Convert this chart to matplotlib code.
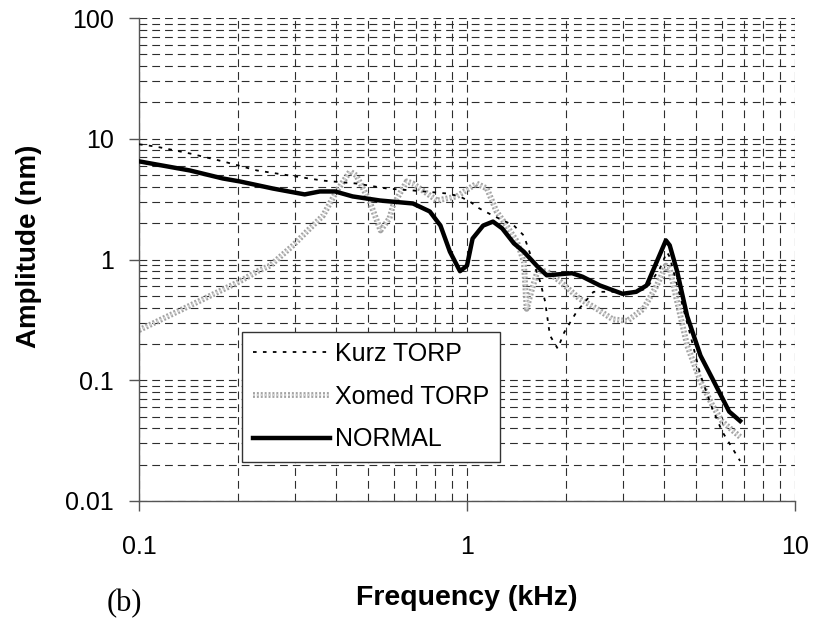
import matplotlib
matplotlib.use("Agg")
import matplotlib.pyplot as plt
import matplotlib.patheffects as pe
from matplotlib.ticker import LogLocator, NullFormatter, FixedLocator, FixedFormatter

plt.rcParams['font.family'] = ['Liberation Sans', 'DejaVu Sans']

# ---- data (frequency in kHz, amplitude in nm) ----
kurz_f = [0.1, 0.113, 0.143, 0.18, 0.229, 0.288, 0.364, 0.46, 0.57, 0.684, 0.87, 0.95,
          1.02, 1.09, 1.2, 1.39, 1.49, 1.55, 1.67, 1.73, 1.79, 1.89, 1.98, 2.16, 2.43,
          2.78, 3.14, 3.53, 3.87, 4.07, 4.15, 4.46, 4.8, 5.15, 5.6, 6.0, 6.8]
kurz_a = [9.0, 8.6, 7.55, 6.5, 5.46, 4.96, 4.5, 4.26, 3.87, 3.73, 3.52, 3.33,
          3.02, 2.65, 2.31, 1.91, 1.58, 1.16, 0.66, 0.45, 0.235, 0.183, 0.25, 0.37, 0.54,
          0.54, 0.52, 0.575, 0.84, 1.15, 1.05, 0.50, 0.235, 0.11, 0.058, 0.0376, 0.0215]

xomed_f = [0.1, 0.152, 0.203, 0.232, 0.251, 0.295, 0.325, 0.364, 0.4, 0.44, 0.46, 0.505,
           0.545, 0.58, 0.595, 0.655, 0.684, 0.81, 0.93, 1.07, 1.15, 1.23, 1.32, 1.42,
           1.49, 1.52, 1.58, 1.64, 1.75, 1.92, 2.2, 2.49, 2.78, 3.08, 3.45, 3.79, 4.04,
           4.15, 4.37, 4.69, 5.15, 5.6, 6.0, 6.8]
xomed_a = [0.26, 0.45, 0.66, 0.81, 0.89, 1.31, 1.71, 2.31, 3.66, 5.36, 4.96, 3.02,
           1.74, 2.19, 2.8, 4.43, 4.26, 3.08, 3.33, 4.26, 3.87, 2.5, 1.91, 1.41,
           0.96, 0.39, 0.575, 0.8, 0.8, 0.66, 0.475, 0.39, 0.32, 0.31, 0.39, 0.61, 0.89,
           0.84, 0.45, 0.194, 0.098, 0.062, 0.0455, 0.034]

normal_f = [0.1, 0.143, 0.18, 0.203, 0.256, 0.32, 0.356, 0.396, 0.448, 0.543, 0.684, 0.77,
            0.83, 0.887, 0.952, 1.0, 1.04, 1.12, 1.2, 1.28, 1.39, 1.49, 1.64, 1.75, 2.09,
            2.25, 2.54, 2.98, 3.28, 3.53, 3.79, 4.04, 4.15, 4.37, 4.69, 5.15, 5.6, 6.3, 6.8]
normal_a = [6.5, 5.46, 4.69, 4.43, 3.87, 3.46, 3.66, 3.66, 3.33, 3.08, 2.91, 2.5,
            1.91, 1.16, 0.80, 0.89, 1.49, 1.91, 2.06, 1.81, 1.36, 1.16, 0.875, 0.74, 0.77,
            0.72, 0.61, 0.52, 0.54, 0.61, 0.96, 1.44, 1.31, 0.80, 0.34, 0.16, 0.103, 0.055, 0.046]

x_ticks = [0.1, 1, 10]
x_tick_labels = ["0.1", "1", "10"]
y_ticks = [0.01, 0.1, 1, 10, 100]
y_tick_labels = ["0.01", "0.1", "1", "10", "100"]

# ---- figure ----
fig = plt.figure(figsize=(8.15, 6.24), dpi=100)
ax = fig.add_axes([139/815, 1 - 501/624, (795-139)/815, (501-18)/624])
ax.set_xscale('log')
ax.set_yscale('log')
ax.set_xlim(0.1, 10)
ax.set_ylim(0.01, 100)

ax.plot(kurz_f, kurz_a, color='black', lw=1.3, linestyle=(0, (2, 3.5)), label='Kurz TORP', zorder=3)
ax.plot(xomed_f, xomed_a, color='#d4d4d4', lw=1.4, linestyle=(0, (1, 1)), label='Xomed TORP', zorder=2,
        path_effects=[pe.Stroke(linewidth=4.2, foreground='#a3a3a3'), pe.Normal()])
ax.plot(normal_f, normal_a, color='black', lw=3.2, label='NORMAL', zorder=4)

ax.xaxis.set_major_locator(FixedLocator(x_ticks))
ax.xaxis.set_major_formatter(FixedFormatter(x_tick_labels))
ax.yaxis.set_major_locator(FixedLocator(y_ticks))
ax.yaxis.set_major_formatter(FixedFormatter(y_tick_labels))
ax.xaxis.set_minor_locator(LogLocator(base=10, subs=range(2, 10)))
ax.yaxis.set_minor_locator(LogLocator(base=10, subs=range(2, 10)))
ax.xaxis.set_minor_formatter(NullFormatter())
ax.yaxis.set_minor_formatter(NullFormatter())

ax.grid(True, which='both', color='#2e2e2e', lw=0.8, linestyle=(0, (7, 4.5)), zorder=0)
ax.set_axisbelow(True)

for s in ['top', 'right']:
    ax.spines[s].set_visible(False)
for s in ['left', 'bottom']:
    ax.spines[s].set_color('#555555')
    ax.spines[s].set_linewidth(1.0)

ax.tick_params(which='major', direction='out', length=7.2, width=1.0, color='#555555',
               labelsize=18)
ax.tick_params(axis='x', which='major', pad=17)
ax.tick_params(axis='y', which='major', pad=11)
ax.tick_params(which='minor', length=0)

ax.set_xlabel('Frequency (kHz)', fontsize=20.5, fontweight='bold', labelpad=19)
ax.set_ylabel('Amplitude (nm)', fontsize=20, fontweight='bold')
ax.yaxis.set_label_coords(-0.148, 0.528)

leg = ax.legend(loc='lower left', bbox_to_anchor=(103/656, 39/483), borderaxespad=0,
                fontsize=18, handlelength=3.1, handletextpad=0.2, labelspacing=0.75,
                borderpad=0.42, fancybox=False, frameon=True, framealpha=1,
                edgecolor='#333333')
leg.get_frame().set_linewidth(1.0)

fig.text(107/815, 1 - 611/624, '(b)', family='Liberation Serif', fontsize=22)

fig.savefig('out.png', dpi=100)
